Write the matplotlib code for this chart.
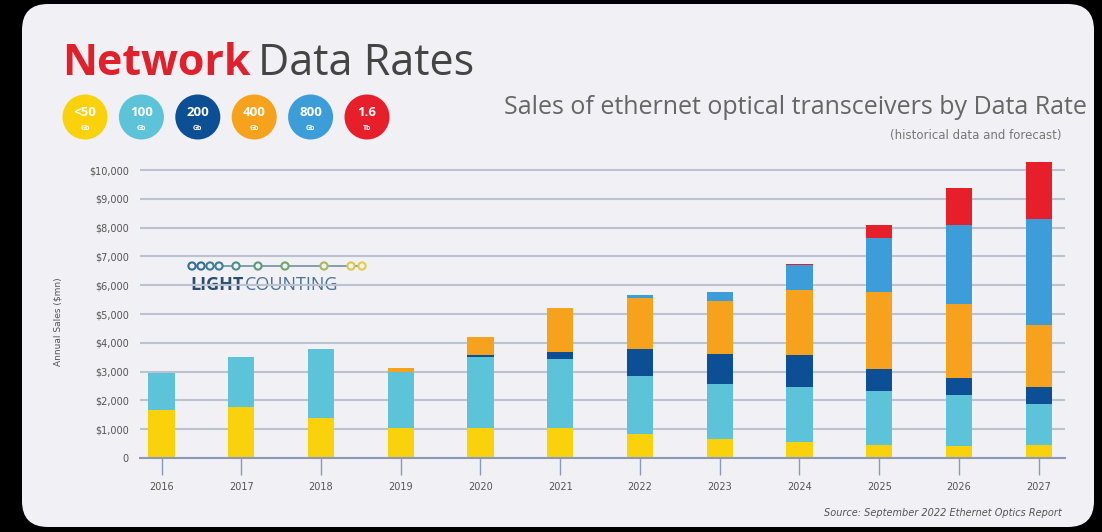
import matplotlib
matplotlib.use("Agg")
import matplotlib.pyplot as plt
from matplotlib.patches import FancyBboxPatch, Circle
import numpy as np

# 以太网光模块销售额 (百万美元), 按速率分段
years = ["2016", "2017", "2018", "2019", "2020", "2021",
         "2022", "2023", "2024", "2025", "2026", "2027"]
sales_lt50 = [1670, 1760, 1380, 1030, 1030, 1030, 830, 650, 570, 450, 420, 450]
sales_100g = [1290, 1760, 2390, 1970, 2470, 2410, 2020, 1920, 1910, 1880, 1770, 1430]
sales_200g = [0, 0, 0, 0, 80, 250, 920, 1040, 1100, 750, 580, 570]
sales_400g = [0, 0, 0, 110, 610, 1510, 1780, 1850, 2250, 2690, 2580, 2170]
sales_800g = [0, 0, 0, 0, 0, 0, 110, 310, 870, 1860, 2740, 3670]
sales_1p6t = [0, 0, 0, 0, 0, 0, 0, 0, 40, 460, 1270, 2000]

rate_top = ["<50", "100", "200", "400", "800", "1.6"]
rate_unit = ["Gb", "Gb", "Gb", "Gb", "Gb", "Tb"]
rate_colors = ["#f9d20c", "#5cc3d8", "#0c4f95", "#f7a21c", "#3d9dd8", "#e61f2b"]

y_ticks = [0, 1000, 2000, 3000, 4000, 5000, 6000, 7000, 8000, 9000, 10000]
y_ticklabels = ["0", "$1,000", "$2,000", "$3,000", "$4,000", "$5,000",
                "$6,000", "$7,000", "$8,000", "$9,000", "$10,000"]

W, H = 1102, 532
narrow = ["Liberation Sans Narrow", "DejaVu Sans"]

fig = plt.figure(figsize=(W / 100, H / 100), dpi=100)
fig.patch.set_facecolor("black")

# 背景层: 像素坐标, y 向下
bg = fig.add_axes([0, 0, 1, 1])
bg.set_xlim(0, W)
bg.set_ylim(H, 0)
bg.axis("off")
bg.add_patch(FancyBboxPatch((22, 4), 1072, 523, boxstyle="round,pad=0,rounding_size=26",
                            fc="#f0f0f5", ec="none"))

# 标题
t1 = bg.text(62, 75, "Network", fontsize=31, fontweight="bold", color="#e0202b",
             family="Open Sans", va="baseline")
fig.canvas.draw()
bb = t1.get_window_extent()
bg.text(bb.x1 + 8, 75, "Data Rates", fontsize=31, color="#444444",
        family="Open Sans", va="baseline")

# 速率图例圆点
for i, (top, unit, c) in enumerate(zip(rate_top, rate_unit, rate_colors)):
    cx = 85 + i * 56.4
    bg.add_patch(Circle((cx, 117), 22.5, fc=c, ec="none"))
    bg.text(cx, 112, top, fontsize=9.5, fontweight="bold", color="white",
            ha="center", va="center", family="Open Sans")
    bg.text(cx, 128, unit, fontsize=5, fontweight="bold", color="white",
            ha="center", va="center", family="Open Sans")

bg.text(1087, 107, "Sales of ethernet optical transceivers by Data Rate", fontsize=18,
        color="#666666", ha="right", va="center", family="Open Sans")
bg.text(1062, 136, "(historical data and forecast)", fontsize=8.5,
        color="#777777", ha="right", va="center", family=narrow)

# LightCounting 标志
logo_x = [192, 201, 210, 219, 236, 258, 285, 324, 351, 362]
logo_c = ["#2f6e9a", "#2f6e9a", "#3d7e97", "#3d7e97", "#4f8f8a", "#5d9a7a",
          "#72a56c", "#a9b85a", "#d8c94a", "#e3cf45"]
bg.plot([logo_x[0], logo_x[-1]], [266, 266], color="#6e93a0", lw=1.2, zorder=2)
for lx, lc in zip(logo_x, logo_c):
    bg.add_patch(Circle((lx, 266), 3.6, fc="#f0f0f5", ec=lc, lw=1.5, zorder=3))
t2 = bg.text(190, 285, "LIGHT", fontsize=13, fontweight="bold", color="#2b4e74",
             va="center", family="Open Sans")
fig.canvas.draw()
bb2 = t2.get_window_extent()
bg.text(bb2.x1 + 1, 285, "COUNTING", fontsize=13, color="#4a7396",
        va="center", family="Open Sans")

bg.text(58, 322, "Annual Sales ($mn)", fontsize=6.5, color="#555555", rotation=90,
        ha="center", va="center", family=narrow)
bg.text(1062, 513, "Source: September 2022 Ethernet Optics Report", fontsize=7,
        style="italic", color="#555555", ha="right", va="center", family=narrow)

# 主图: 0 位于 y=458px, 10,000 位于 y=170px
ymax = 10400
px_per = (458 - 170) / 10000
ax_top = 458 - ymax * px_per
ax = fig.add_axes([140 / W, (H - 458) / H, (1065 - 140) / W, (458 - ax_top) / H])
ax.set_facecolor("none")

x = np.arange(len(years))
series = [sales_lt50, sales_100g, sales_200g, sales_400g, sales_800g, sales_1p6t]
bottom = np.zeros(len(years))
for vals, c in zip(series, rate_colors):
    ax.bar(x, vals, width=0.33, bottom=bottom, color=c, zorder=3)
    bottom += np.array(vals)

ax.set_xlim(-0.27, 11.33)
ax.set_ylim(0, ymax)
ax.set_yticks(y_ticks)
ax.set_yticklabels(y_ticklabels, fontsize=7, color="#555555", family=narrow)
ax.set_xticks(x)
ax.set_xticklabels(years, fontsize=7, color="#555555", family=narrow)
ax.tick_params(axis="y", length=0, pad=8)
ax.tick_params(axis="x", length=12, width=1, color="#8c98b8", pad=5)
ax.grid(axis="y", color="#bcc3d0", lw=1.5, zorder=1)
for s in ["top", "right", "left"]:
    ax.spines[s].set_visible(False)
ax.spines["bottom"].set_color("#8c98b8")
ax.spines["bottom"].set_linewidth(1.5)
ax.spines["bottom"].set_zorder(4)

fig.savefig("out.png", dpi=100, facecolor=fig.get_facecolor())
